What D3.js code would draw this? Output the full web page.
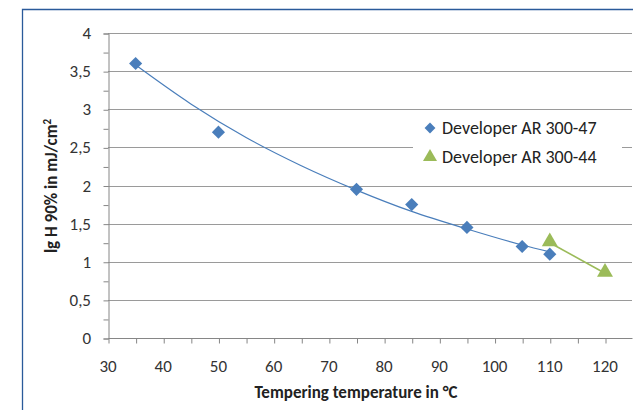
<!DOCTYPE html>
<html>
<head>
<meta charset="utf-8">
<script src="https://cdn.jsdelivr.net/npm/d3@7"></script>
<style>
  body { margin: 0; background: #fff; }
  svg { display: block; }
</style>
</head>
<body>
<script>
// values
var tempAR47 = [35, 50, 75, 85, 95, 105, 110];
var lgAR47 = [3.6, 2.7, 1.95, 1.75, 1.45, 1.2, 1.1];
var tempAR44 = [110, 120];
var lgAR44 = [1.25, 0.85];
// trend line of AR 300-47
var trendTemp = [35, 45, 55, 65, 75, 85, 95, 105, 110];
var trendLg = [3.58, 3.07, 2.63, 2.26, 1.94, 1.66, 1.43, 1.22, 1.13];
var xTicks = [30, 40, 50, 60, 70, 80, 90, 100, 110, 120];
var yTicks = [0, 0.5, 1, 1.5, 2, 2.5, 3, 3.5, 4];
var seriesNames = ['Developer AR 300-47', 'Developer AR 300-44'];

var W = 633, H = 410;
var blue = '#4a7ebb', green = '#9bbb59';
var font = 'Calibri, Carlito, "Open Sans", sans-serif';

var svg = d3.select('body').append('svg')
  .attr('width', W).attr('height', H);

// frame
svg.append('path')
  .attr('d', 'M22.5,' + H + 'V9.5H' + W)
  .attr('fill', 'none')
  .attr('stroke', '#2a5a9a')
  .attr('stroke-width', 1.3);

var x = d3.scaleLinear().domain([30, 120]).range([108, 605]);
var y = d3.scaleLinear().domain([0, 4]).range([338, 33]);

// gridlines
svg.append('g').selectAll('line')
  .data(yTicks.slice(1))
  .enter().append('line')
  .attr('x1', 108).attr('x2', 632)
  .attr('y1', function (d) { return Math.round(y(d)) + 0.5; })
  .attr('y2', function (d) { return Math.round(y(d)) + 0.5; })
  .attr('stroke', '#9a9a9a')
  .attr('stroke-width', 1.2);

// y axis
var yAxis = d3.axisLeft(y).tickValues(d3.range(0, 4.01, 0.25))
  .tickSize(5).tickFormat('');
var gy = svg.append('g').attr('transform', 'translate(108.5,0.5)').call(yAxis);
gy.select('.domain').attr('stroke', '#868686');
gy.selectAll('.tick line').attr('stroke', '#868686');

svg.append('g').selectAll('text')
  .data(yTicks)
  .enter().append('text')
  .attr('x', 91).attr('y', function (d) { return y(d) + 6; })
  .attr('text-anchor', 'end')
  .attr('font-family', font).attr('font-size', 17).attr('fill', '#333')
  .text(function (d) { return String(d).replace('.', ','); });

// x axis
var xAxis = d3.axisBottom(x).tickValues(d3.range(30, 121, 5))
  .tickSize(5).tickFormat('');
var gx = svg.append('g').attr('transform', 'translate(0.5,338.5)').call(xAxis);
gx.select('.domain').attr('stroke', '#868686').attr('d', 'M108,0H632');
gx.selectAll('.tick line').attr('stroke', '#868686');

svg.append('g').selectAll('text')
  .data(xTicks)
  .enter().append('text')
  .attr('x', function (d) { return x(d); }).attr('y', 372)
  .attr('text-anchor', 'middle')
  .attr('font-family', font).attr('font-size', 17).attr('fill', '#333')
  .text(function (d) { return d; });

// axis titles
svg.append('text')
  .attr('x', 356).attr('y', 398)
  .attr('text-anchor', 'middle')
  .attr('font-family', font).attr('font-size', 17).attr('font-weight', 'bold').attr('fill', '#222')
  .text('Tempering temperature in °C');

var yt = svg.append('text')
  .attr('transform', 'translate(57,186) rotate(-90)')
  .attr('text-anchor', 'middle')
  .attr('font-family', font).attr('font-size', 17).attr('font-weight', 'bold').attr('fill', '#222');
yt.append('tspan').text('lg H 90% in mJ/cm');
yt.append('tspan').attr('dy', -6).attr('font-size', 11).text('2');

// trend line
var trendLine = d3.line()
  .x(function (d, i) { return x(trendTemp[i]); })
  .y(function (d) { return y(d); })
  .curve(d3.curveMonotoneX);
svg.append('path')
  .attr('d', trendLine(trendLg))
  .attr('fill', 'none').attr('stroke', blue).attr('stroke-width', 1.2);

// AR 300-44 connecting line
var line44 = d3.line()
  .x(function (d, i) { return x(tempAR44[i]); })
  .y(function (d) { return y(d); });
svg.append('path')
  .attr('d', line44(lgAR44))
  .attr('fill', 'none').attr('stroke', green).attr('stroke-width', 1.6);

var diamond = d3.symbol().type(d3.symbolDiamond2).size(110);
var triangle = d3.symbol().type(d3.symbolTriangle).size(110);

svg.append('g').selectAll('path')
  .data(lgAR47)
  .enter().append('path')
  .attr('transform', function (d, i) { return 'translate(' + x(tempAR47[i]) + ',' + y(d) + ')'; })
  .attr('d', diamond).attr('fill', blue);

svg.append('g').selectAll('path')
  .data(lgAR44)
  .enter().append('path')
  .attr('transform', function (d, i) { return 'translate(' + x(tempAR44[i]) + ',' + (y(d) - 1) + ')'; })
  .attr('d', triangle).attr('fill', green);

// legend
var lg = svg.append('g');
lg.append('rect')
  .attr('x', 413).attr('y', 113).attr('width', 209).attr('height', 58)
  .attr('fill', '#fff');
var items = lg.selectAll('g.item')
  .data(seriesNames)
  .enter().append('g')
  .attr('transform', function (d, i) { return 'translate(430,' + (128 + i * 29) + ')'; });
items.append('path')
  .attr('d', function (d, i) {
    return d3.symbol().type(i === 0 ? d3.symbolDiamond2 : d3.symbolTriangle).size(i === 0 ? 75 : 85)();
  })
  .attr('fill', function (d, i) { return i === 0 ? blue : green; });
items.append('text')
  .attr('x', 12).attr('y', 6)
  .attr('font-family', font).attr('font-size', 18).attr('fill', '#222')
  .text(function (d) { return d; });
</script>
</body>
</html>
